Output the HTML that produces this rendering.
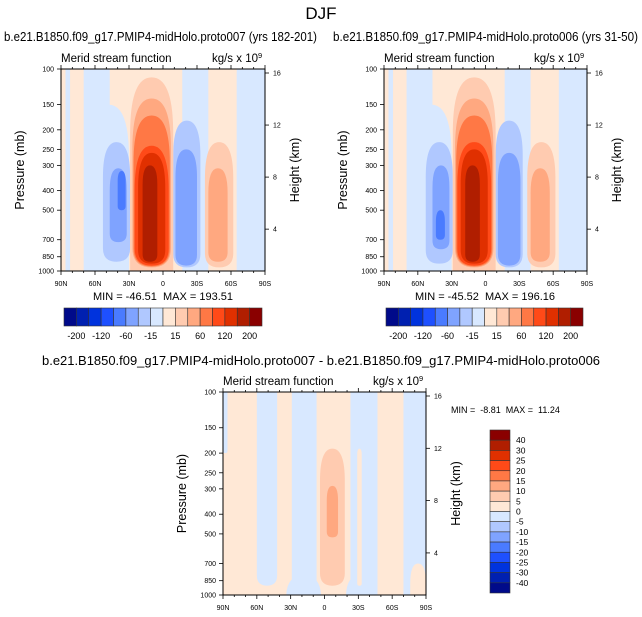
<!DOCTYPE html>
<html><head><meta charset="utf-8"><style>
html,body{margin:0;padding:0;background:#fff;}
svg{display:block;font-family:"Liberation Sans",sans-serif;}
</style></head><body>
<svg id="fig" width="642" height="617" viewBox="0 0 642 617" xmlns="http://www.w3.org/2000/svg">
<text x="321" y="19" font-size="17" text-anchor="middle">DJF</text>
</svg>
<script>
const palette = ["#000a8a","#0020b0","#0033dd","#1e50ff","#4a7bff","#7fa3ff","#b0c8ff","#d8e8ff","#ffe8d6","#ffcbb0","#ffa880","#ff7845","#ff4a18","#e03000","#b01e00","#8a0000"];
const cbLabels1 = ["-200","-120","-60","-15","15","60","120","200"];
const cbLabels3 = ["40","30","25","20","15","10","5","0","-5","-10","-15","-20","-25","-30","-40"];
const latTicks = [90,60,30,0,-30,-60,-90];
const latLabels = ["90N","60N","30N","0","30S","60S","90S"];
const presTicks = [100,150,200,250,300,400,500,700,850,1000];
const heightTicks = [16,12,8,4];
// contour regions: [latNorth, latSouth, pTop, pBottom, level]
const blobs1 = [
 [70,47,100,1000,7],[66,30,150,1000,7],[86,82,100,1000,7],
 [-17,-40,100,1000,7],[-65,-90,100,1000,7],
 [53,29,230,900,6],[47,32,310,720,5],[40,33,320,500,4],
 [-9,-33,180,960,6],[-11,-30,250,940,5],
 [29,-9,110,1000,9],[27,-7,140,960,10],[26,-6,170,950,11],[25,-5,240,940,12],[22,-2,260,920,13],[18,5,300,900,14],
 [-37,-62,230,960,9],[-40,-57,310,900,10]
];
const blobs2 = [
 [70,47,100,1000,7],[66,30,150,1000,7],[86,82,100,1000,7],
 [-17,-40,100,1000,7],[-65,-90,100,1000,7],
 [53,29,230,920,6],[47,32,300,780,5],[44,36,500,700,4],
 [-9,-33,180,960,6],[-11,-31,260,940,5],
 [29,-9,110,1000,9],[27,-7,140,960,10],[26,-6,170,950,11],[25,-5,230,940,12],[22,-2,250,920,13],[18,5,300,900,14],
 [-37,-62,230,960,9],[-40,-57,310,900,10]
];
const blobs3 = [
 [90,86,100,200,7],
 [60,42,100,900,7],
 [29,7,100,1000,7],[34,3,800,1000,7],
 [-23,-47,100,1000,7],[-19,-44,800,1000,7],
 [-70,-90,100,1000,7],
 [-29,-33,190,900,8],
 [4,-18,190,900,9],[-2,-12,290,520,10],
 [-76,-90,700,1000,8]
];

const svg = document.getElementById('fig');
const NS = "http://www.w3.org/2000/svg";
function mk(tag, attrs, parent){const e=document.createElementNS(NS,tag);for(const k in attrs)e.setAttribute(k,attrs[k]);(parent||svg).appendChild(e);return e;}
function txt(x,y,s,size,anchor,parent,extra){const t=mk('text',Object.assign({x:x,y:y,'font-size':size,'text-anchor':anchor||'start'},extra||{}),parent);t.textContent=s;return t;}

function panel(id, L, T, W, H, blobs){
  const g = mk('g',{});
  
  
  const xS = lat => L + (90 - lat)/180*W;
  const yS = p => T + Math.log(p/100)/Math.log(10)*H;
  const cid = 'clip-'+id;
  const cp = mk('clipPath',{id:cid},g); mk('rect',{x:L,y:T,width:W,height:H},cp);
  const area = mk('g',{'clip-path':'url(#'+cid+')'},g);
  const bg = mk('rect',{x:L,y:T,width:W,height:H,fill:palette[8]},area);
  
  
  blobs.forEach(b=>{
    const x1=xS(b[0]), x2=xS(b[1]), xc=(x1+x2)/2;
    const y1=yS(b[2]), y2=yS(b[3]);
    const w=x2-x1;
    const top = b[2]<=100 ? y1-30 : y1;
    const bot = b[3]>=1000 ? y2+30 : y2;
    const h = bot-top;
    const k = Math.min(h*0.45, w*1.3);
    const r = Math.min(h*0.3, w*0.5);
    const d = 'M'+x1+','+(bot-r)+' L'+x1+','+(top+k)+' Q'+x1+','+top+' '+xc+','+top+' Q'+x2+','+top+' '+x2+','+(top+k)+' L'+x2+','+(bot-r)+' Q'+x2+','+bot+' '+xc+','+bot+' Q'+x1+','+bot+' '+x1+','+(bot-r)+' Z';
    const p = mk('path',{d:d,fill:palette[b[4]]},area);
    
    
  });
  const frame = mk('rect',{x:L,y:T,width:W,height:H,fill:'none',stroke:'#000','stroke-width':1},g);
  
  
  for(let lat=90;lat>=-90;lat-=10){
    const x=xS(lat), major=(lat%30===0);
    const len=major?4:2;
    mk('line',{x1:x,y1:T+H,x2:x,y2:T+H+len,stroke:'#000','stroke-width':0.8},g);
    mk('line',{x1:x,y1:T,x2:x,y2:T-len,stroke:'#000','stroke-width':0.8},g);
  }
  latTicks.forEach((lat,i)=>{
    const t=txt(xS(lat),T+H+15,latLabels[i],7,'middle',g);
    
    
  });
  presTicks.forEach(p=>{
    const y=yS(p);
    mk('line',{x1:L,y1:y,x2:L-4,y2:y,stroke:'#000','stroke-width':0.8},g);
    const t=txt(L-7,y+2.5,String(p),7,'end',g);
    
    
  });
  heightTicks.forEach(hk=>{
    const y = T + 4 + (16-hk)/12*(H*0.773);
    mk('line',{x1:L+W,y1:y,x2:L+W+4,y2:y,stroke:'#000','stroke-width':0.8},g);
    const t=txt(L+W+8,y+2.5,String(hk),7,'start',g);
    
    
  });
  const a=txt(L,T-7,'Merid stream function',11.5,'start',g);
  
  
  const u=mk('text',{x:L+W-7,y:T-7,'font-size':11.5,'text-anchor':'end'},g);
  u.textContent='kg/s x 10';
  
  
  const sup=txt(L+W-7,T-11,'9',7.5,'start',g);
  
  
  const py=txt(0,0,'Pressure (mb)',12.5,'middle',g,{transform:'translate('+(L-37)+','+(T+H/2)+') rotate(-90)'});
  
  
  const hy=txt(0,0,'Height (km)',12.5,'middle',g,{transform:'translate('+(L+W+34)+','+(T+H/2)+') rotate(-90)'});
  
  
  return g;
}

function hbar(x0,y0,w,h){
  const g=mk('g',{});
  
  
  const bw=w/16;
  palette.forEach((c,i)=>{
    const r=mk('rect',{x:x0+i*bw,y:y0,width:bw,height:h,fill:c,stroke:'#333','stroke-width':0.6},g);
    
    
  });
  cbLabels1.forEach((s,i)=>{
    const t=txt(x0+(2*i+1)*bw,y0+h+13,s,9,'middle',g);
    
    
  });
}
function vbar(x0,y0,w,h){
  const g=mk('g',{});
  
  
  const bh=h/16;
  palette.slice().reverse().forEach((c,i)=>{
    const r=mk('rect',{x:x0,y:y0+i*bh,width:w,height:bh,fill:c,stroke:'#333','stroke-width':0.6},g);
    
    
  });
  cbLabels3.forEach((s,i)=>{
    const t=txt(x0+w+6,y0+(i+1)*bh+3,s,8.5,'start',g);
    
    
  });
}

let s1=txt(4,41,'b.e21.B1850.f09_g17.PMIP4-midHolo.proto007 (yrs 182-201)',12.5,'start',svg,{textLength:313,lengthAdjust:'spacingAndGlyphs'});


let s2=txt(333,41,'b.e21.B1850.f09_g17.PMIP4-midHolo.proto006 (yrs 31-50)',12.5,'start',svg,{textLength:305,lengthAdjust:'spacingAndGlyphs'});


let s3=txt(321,365,'b.e21.B1850.f09_g17.PMIP4-midHolo.proto007 - b.e21.B1850.f09_g17.PMIP4-midHolo.proto006',12.5,'middle',svg,{textLength:558,lengthAdjust:'spacingAndGlyphs'});



panel('panel-proto007',61,69,204,202,blobs1);
panel('panel-proto006',384,69,203,202,blobs2);
panel('panel-difference',223,392,203,203,blobs3);

let m1=txt(163,300,'MIN = -46.51\u00a0\u00a0MAX = 193.51',11,'middle',svg);


let m2=txt(485,300,'MIN = -45.52\u00a0\u00a0MAX = 196.16',11,'middle',svg);


let m3=txt(451,413,'MIN =\u00a0\u00a0-8.81\u00a0\u00a0MAX =\u00a0\u00a011.24',9,'start',svg);



hbar(64,308,198,18);
hbar(386,308,197,18);
vbar(490,430,20,163);
</script>
</body></html>
